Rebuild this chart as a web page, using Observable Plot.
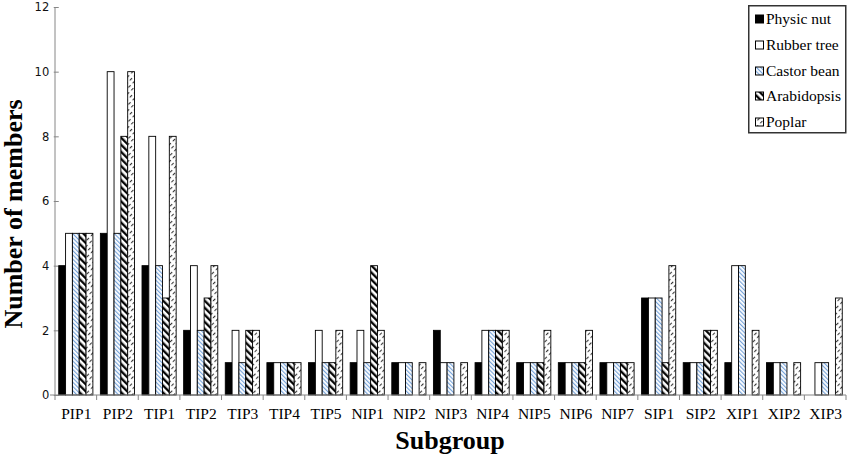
<!DOCTYPE html>
<html><head><meta charset="utf-8">
<script src="https://cdn.jsdelivr.net/npm/d3@7"></script>
<script src="https://cdn.jsdelivr.net/npm/@observablehq/plot@0.6"></script>
<style>
body{margin:0;background:#fff;}
#wrap{position:relative;width:851px;height:459px;}
g[aria-label^="fx-axis"] text{font-family:"Liberation Serif","Times New Roman",serif;font-size:15.5px;fill:#000;}
g[aria-label^="y-axis"] text{font-family:"DejaVu Sans",Verdana,sans-serif;font-size:11.5px;fill:#111;}
g[aria-label^="y-axis"] line, g[aria-label^="y-axis"] path{stroke:#868686;}
</style></head>
<body>
<svg width="0" height="0" style="position:absolute">
  <defs>
    <pattern id="pCastor" width="3" height="3" patternUnits="userSpaceOnUse" patternTransform="rotate(-45)">
      <rect width="3" height="3" fill="#fff"/>
      <line x1="0.6" y1="0" x2="0.6" y2="3" stroke="#6f9fd8" stroke-width="1.1"/>
    </pattern>
    <pattern id="pArab" width="5" height="5" patternUnits="userSpaceOnUse" patternTransform="rotate(-45)">
      <rect width="5" height="5" fill="#fff"/>
      <line x1="1.2" y1="0" x2="1.2" y2="5" stroke="#000" stroke-width="2.3"/>
    </pattern>
    <pattern id="pPoplar" width="4" height="6" patternUnits="userSpaceOnUse" patternTransform="rotate(45)">
      <rect width="4" height="6" fill="#fff"/>
      <line x1="0.6" y1="0" x2="0.6" y2="3.2" stroke="#222" stroke-width="1"/>
    </pattern>
  </defs>
</svg>
<div id="wrap">
  <div id="chart"></div>
</div>
<script>
const groups = ["PIP1","PIP2","TIP1","TIP2","TIP3","TIP4","TIP5","NIP1","NIP2","NIP3","NIP4","NIP5","NIP6","NIP7","SIP1","SIP2","XIP1","XIP2","XIP3"];
const species = ["Physic nut","Rubber tree","Castor bean","Arabidopsis","Poplar"];
const physicNut   = [4,5,4,2,1,1,1,1,1,2,1,1,1,1,3,1,1,1,0];
const rubberTree  = [5,10,8,4,2,1,2,2,1,1,2,1,1,1,3,1,4,1,1];
const castorBean  = [5,5,4,2,1,1,1,1,1,1,2,1,1,1,3,1,4,1,1];
const arabidopsis = [5,8,3,3,2,1,1,4,0,0,2,1,1,1,1,2,0,0,0];
const poplar      = [5,10,8,4,2,1,2,2,1,1,2,2,2,1,4,2,2,1,3];
const yTicks = [0,2,4,6,8,10,12];
const fills = ["#000","#fff","url(#pCastor)","url(#pArab)","url(#pPoplar)"];

const series = [physicNut, rubberTree, castorBean, arabidopsis, poplar];
const rows = [];
groups.forEach((g, i) => species.forEach((s, j) => {
  if (series[j][i] > 0) rows.push({group: g, species: s, value: series[j][i]});
}));

const serif = '"Liberation Serif","Times New Roman",serif';

const plot = Plot.plot({
  width: 851, height: 459,
  marginLeft: 55, marginRight: 5, marginTop: 7, marginBottom: 64,
  fx: {domain: groups, paddingInner: 0.18, paddingOuter: 0.09, round: false, label: null, tickSize: 0, tickPadding: 12},
  x: {domain: species, paddingInner: 0, paddingOuter: 0, round: false, axis: null},
  y: {domain: [0, 12], ticks: yTicks, tickSize: 5, tickPadding: 5, label: null},
  color: {type: "ordinal", domain: species, range: fills},
  marks: [
    Plot.barY(rows, {fx: "group", x: "species", y: "value", fill: "species", stroke: "#000", strokeWidth: 0.9})
  ]
});
document.getElementById("chart").appendChild(plot);

// axis lines, category boundary ticks and axis titles, from the plot's own scales
const fx = plot.scale("fx"), y = plot.scale("y");
const svg = d3.select(plot);
const y0 = y.apply(0), yTop = y.apply(12);
const bw = fx.bandwidth;
const step = fx.step ?? (fx.apply(groups[1]) - fx.apply(groups[0]));
const bounds = groups.map(g => fx.apply(g) - (step - bw) / 2);
bounds.push(bounds[bounds.length - 1] + step);
const ax = svg.append("g").attr("stroke", "#868686").attr("stroke-width", 1);
ax.append("line").attr("x1", bounds[0]).attr("x2", bounds[0]).attr("y1", yTop).attr("y2", y0);
ax.append("line").attr("x1", bounds[0] - 5).attr("x2", bounds[bounds.length - 1]).attr("y1", y0).attr("y2", y0);
ax.selectAll("line.b").data(bounds).join("line").attr("class", "b")
  .attr("x1", d => d).attr("x2", d => d).attr("y1", y0).attr("y2", y0 + 5);

svg.append("text").text("Number of members")
  .attr("transform", "translate(22,214) rotate(-90)")
  .attr("text-anchor", "middle")
  .style("font-family", serif)
  .style("font-weight", "bold").style("font-size", "26px").attr("fill", "#000");
svg.append("text").text("Subgroup")
  .attr("x", 450).attr("y", 449)
  .attr("text-anchor", "middle")
  .style("font-family", serif)
  .style("font-weight", "bold").style("font-size", "26px").attr("fill", "#000");

// legend (inside the plot area, top right, as in the reference)
const lg = svg.append("g").attr("transform", "translate(748,5)");
lg.append("rect").attr("x", 0.75).attr("y", 0.75).attr("width", 97).attr("height", 127)
  .attr("fill", "#fff").attr("stroke", "#333").attr("stroke-width", 1.5);
const centers = [14, 40, 66, 91, 117];
const item = lg.selectAll("g.item").data(species).join("g").attr("class", "item")
  .attr("transform", (d, i) => `translate(7,${centers[i]})`);
item.append("rect").attr("x", 0.5).attr("y", -4).attr("width", 8).attr("height", 8)
  .attr("fill", (d, i) => fills[i]).attr("stroke", "#000").attr("stroke-width", 1);
item.append("text").text(d => d).attr("x", 11).attr("y", 5)
  .attr("text-anchor", "start")
  .style("font-family", serif).style("font-size", "15.5px").attr("fill", "#000");
</script>
</body></html>
